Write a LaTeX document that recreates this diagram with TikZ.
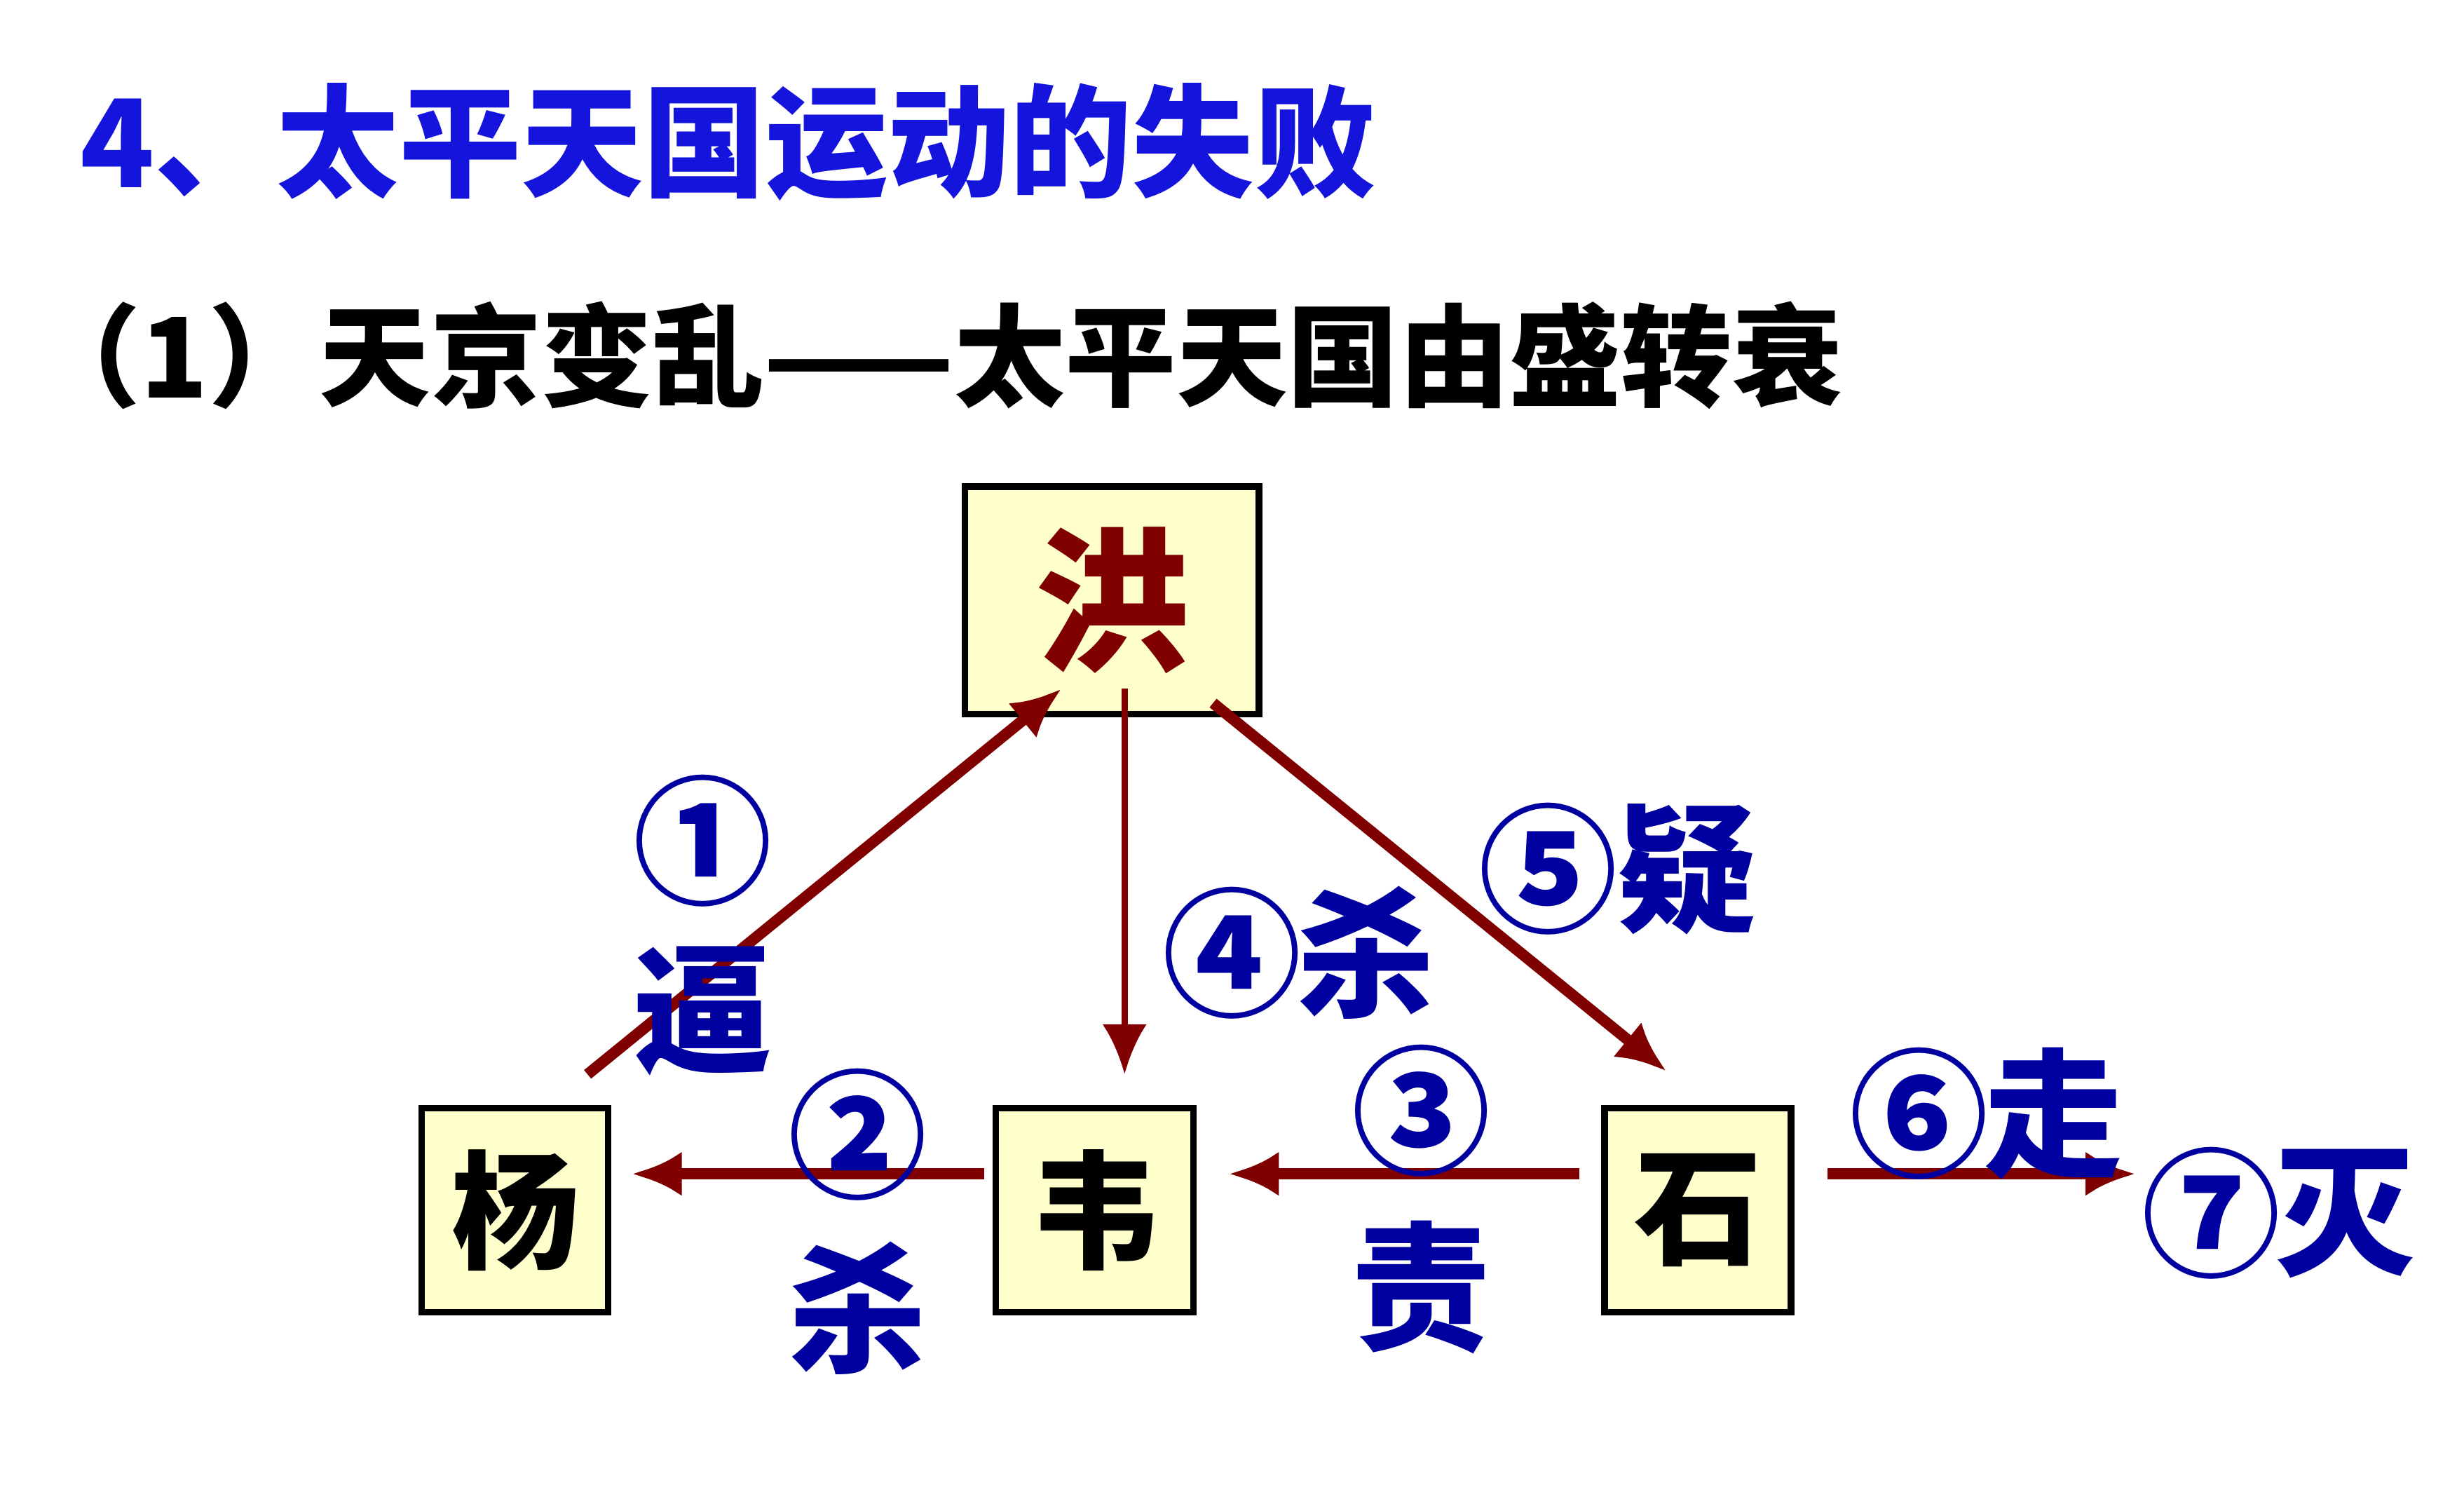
\documentclass[tikz,border=0pt]{standalone}
\usepackage{fontspec}
\setmainfont{Noto Sans CJK SC}
\usetikzlibrary{positioning,arrows.meta}
\definecolor{boxfill}{RGB}{255,255,204}
\definecolor{arrred}{RGB}{128,0,0}
\definecolor{txtblue}{RGB}{0,0,160}
\definecolor{titleblue}{RGB}{20,20,220}
\tikzset{
  person/.style={draw,line width=1.2pt,fill=boxfill,inner sep=0pt,font=\fontsize{23}{23}\selectfont\bfseries},
  lbl/.style={text=txtblue,font=\fontsize{25}{25}\selectfont\bfseries,inner sep=0pt},
  link/.style={draw=arrred,line width=2pt,-{Latex[length=9pt,width=8pt]}},
}
\begin{document}
\begin{tikzpicture}[x=0.01cm,y=-0.01cm]
  \useasboundingbox (0,0) rectangle (1560,956);
  \node (title) [anchor=west,text=titleblue,font=\fontsize{22}{22}\selectfont\bfseries,inner sep=0pt] at (50,90) {4、太平天国运动的失败};
  \node (sub) [anchor=west,font=\fontsize{20}{20}\selectfont\bfseries,inner sep=0pt] at (18,225) {（1）天京变乱——太平天国由盛转衰};
  % boxes
  \node (hong) [person,minimum width=1.86cm,minimum height=1.44cm,text=arrred,font=\fontsize{28}{28}\selectfont\bfseries] at (704,380) {洪};
  \node (yang) [person,minimum width=1.18cm,minimum height=1.29cm] at (326,766) {杨};
  \node (wei) [person,minimum width=1.25cm,minimum height=1.29cm] at (693,766) {韦};
  \node (shi) [person,minimum width=1.18cm,minimum height=1.29cm] at (1075,766) {石};
  % arrows
  \coordinate (a1s) at (372,680); \coordinate (a1e) at (672,436);
  \coordinate (a4s) at (712,436); \coordinate (a4e) at (712,680);
  \coordinate (a5s) at (768,445); \coordinate (a5e) at (1055,678);
  \coordinate (a2s) at (623,743); \coordinate (a2e) at (400,743);
  \coordinate (a3s) at (1000,743); \coordinate (a3e) at (778,743);
  \coordinate (a6s) at (1157,743); \coordinate (a6e) at (1352,743);
  \draw [link] (a1s) -- (a1e);
  \draw [link,line width=1.2pt] (a4s) -- (a4e);
  \draw [link] (a5s) -- (a5e);
  \draw [link] (a2s) -- (a2e);
  \draw [link] (a3s) -- (a3e);
  \draw [link] (a6s) -- (a6e);
  % labels
  \node (n1) [lbl] at (445,532) {①};
  \node (l1) [lbl] at (445,640) {逼};
  \node (n2) [lbl] at (543,718) {②};
  \node (l2) [lbl] at (543,828) {杀};
  \node (n4) [lbl] at (780,603) {④};
  \node (l4) [lbl] at (865,603) {杀};
  \node (n3) [lbl] at (900,703) {③};
  \node (l3) [lbl] at (900,815) {责};
  \node (n5) [lbl] at (980,550) {⑤};
  \node (l5) [lbl] at (1068,550) {疑};
  \node (n6) [lbl] at (1215,705) {⑥};
  \node (l6) [lbl] at (1300,705) {走};
  \node (n7) [lbl] at (1400,768) {⑦};
  \node (l7) [lbl] at (1485,768) {灭};
\end{tikzpicture}
\end{document}
